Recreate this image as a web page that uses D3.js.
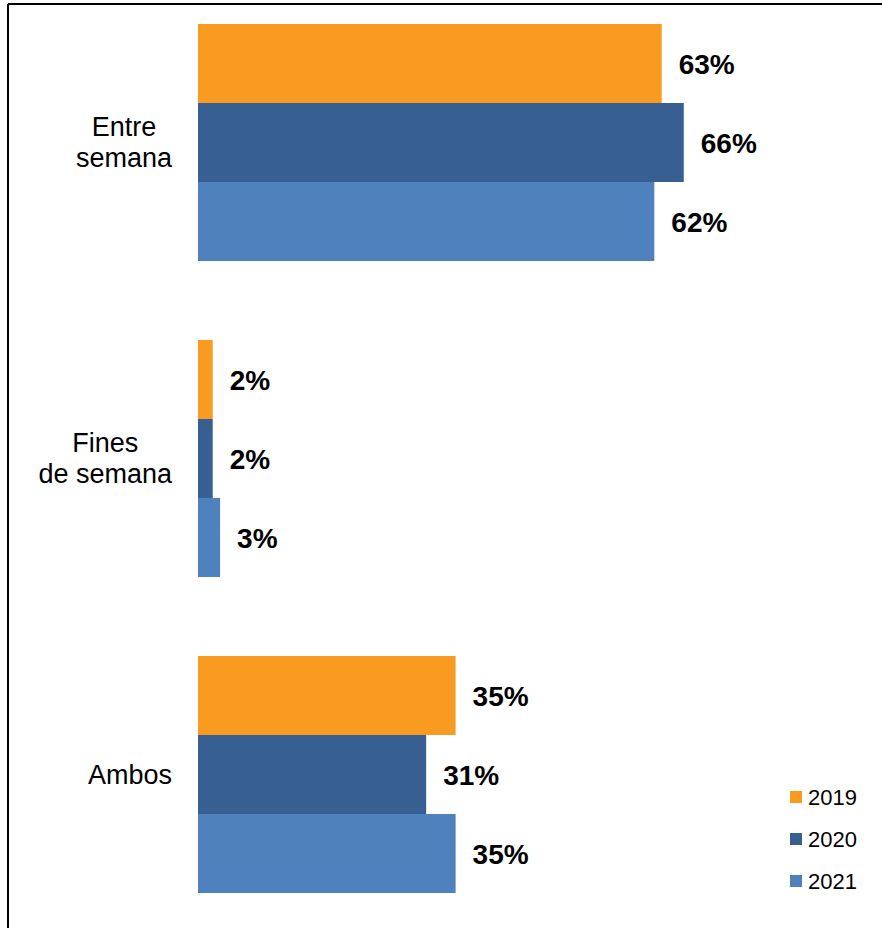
<!DOCTYPE html>
<html>
<head>
<meta charset="utf-8">
<script src="https://cdn.jsdelivr.net/npm/d3@7"></script>
<style>
  html, body { margin: 0; padding: 0; background: #fff; }
  svg { display: block; }
  text { font-family: "Liberation Sans", Arial, sans-serif; fill: #000; }
</style>
</head>
<body>
<svg id="chart" width="882" height="928"></svg>
<script>
// Share of respondents by time of week, per survey year (%)
const categories = ["Entre semana", "Fines de semana", "Ambos"];
const categoryLines = [["Entre", "semana"], ["Fines", "de semana"], ["Ambos"]];
const years = ["2019", "2020", "2021"];
const values2019 = [63, 2, 35];
const values2020 = [66, 2, 31];
const values2021 = [62, 3, 35];
const seriesValues = { "2019": values2019, "2020": values2020, "2021": values2021 };
const colors = ["#F99B21", "#375F91", "#4F81BD"];

const svg = d3.select("#chart");

// Frame lines (top and left)
svg.append("line").attr("x1", 8).attr("x2", 882).attr("y1", 4).attr("y2", 4)
  .attr("stroke", "#000").attr("stroke-width", 2);
svg.append("line").attr("x1", 8).attr("x2", 8).attr("y1", 4).attr("y2", 928)
  .attr("stroke", "#000").attr("stroke-width", 2);

const x0 = 198;
const x = d3.scaleLinear().domain([0, 100]).range([x0, x0 + 736]);
const y = d3.scaleBand().domain(categories).range([24, 893]).paddingInner(0.25).paddingOuter(0);
const yInner = d3.scaleBand().domain(years).range([0, y.bandwidth()]).padding(0);
const color = d3.scaleOrdinal().domain(years).range(colors);

const rows = [];
categories.forEach((c, i) => {
  years.forEach(yr => rows.push({ cat: c, year: yr, value: seriesValues[yr][i] }));
});

const g = svg.append("g");
g.selectAll("rect.bar").data(rows).join("rect")
  .attr("class", "bar")
  .attr("x", x(0))
  .attr("y", d => y(d.cat) + yInner(d.year))
  .attr("width", d => x(d.value) - x(0))
  .attr("height", yInner.bandwidth())
  .attr("fill", d => color(d.year));

g.selectAll("text.val").data(rows).join("text")
  .attr("class", "val")
  .attr("x", d => x(d.value) + 17)
  .attr("y", d => y(d.cat) + yInner(d.year) + yInner.bandwidth() / 2)
  .attr("dy", "0.36em")
  .attr("font-size", 28)
  .attr("font-weight", "bold")
  .text(d => d.value + "%");

// Category labels: lines centred on each other, block right-aligned at x=172
categories.forEach((c, i) => {
  const lines = categoryLines[i];
  const cy = y(c) + y.bandwidth() / 2;
  const lh = 31;
  const t = svg.append("text")
    .attr("text-anchor", "middle")
    .attr("font-size", 27);
  const spans = lines.map((ln, k) => t.append("tspan")
    .attr("y", cy + (k - (lines.length - 1) / 2) * lh)
    .attr("dy", "0.35em")
    .text(ln));
  const maxW = d3.max(spans, s => s.node().getComputedTextLength());
  spans.forEach(s => s.attr("x", 172 - maxW / 2));
});

// Legend
const legend = svg.append("g").attr("transform", "translate(790,797)");
years.forEach((yr, i) => {
  const row = legend.append("g").attr("transform", `translate(0,${i * 42})`);
  row.append("rect").attr("x", 0).attr("y", -6).attr("width", 12).attr("height", 12)
    .attr("fill", color(yr));
  row.append("text").attr("x", 18).attr("y", 0).attr("dy", "0.36em")
    .attr("font-size", 22).text(yr);
});
</script>
</body>
</html>
